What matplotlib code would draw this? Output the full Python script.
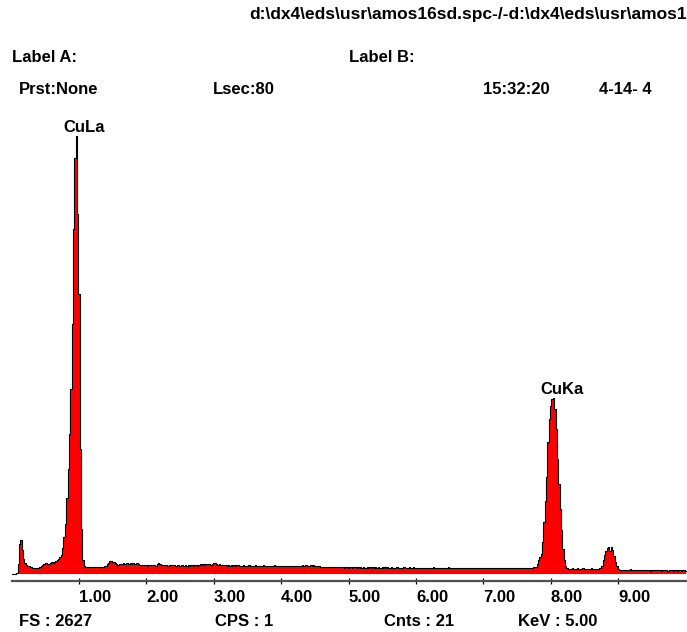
import numpy as np
import matplotlib
matplotlib.use("Agg")
import matplotlib.pyplot as plt

plt.rcParams['font.family'] = ['Liberation Sans', 'DejaVu Sans']

# ---- spectrum data (counts per 0.02 keV channel) ----
step_kev = 0.02

# 0.00 - 1.18 keV : noise peak and Cu L line
start_low = 0.00
counts_low = [
    0, 0, 0, 0, 6, 60, 180, 200, 140, 85,
    66, 54, 48, 44, 40, 38, 36, 33, 34, 33,
    36, 38, 46, 54, 58, 64, 62, 56, 60, 66,
    72, 64, 68, 74, 82, 90, 100, 114, 156, 222,
    300, 456, 630, 840, 1110, 1500, 2070, 2500, 2627, 2160,
    1680, 750, 270, 84, 48, 39, 38, 40, 38, 39,
]

# 1.20 - 7.74 keV : bremsstrahlung background
start_bg = 1.20
counts_bg = [
    40, 42, 38, 41, 40, 39, 42, 40, 41, 44,
    48, 56, 66, 74, 76, 72, 68, 62, 56, 54,
    56, 58, 60, 63, 60, 62, 64, 60, 62, 58,
    62, 60, 58, 62, 57, 54, 52, 54, 50, 52,
    50, 48, 52, 50, 54, 49, 51, 48, 56, 64,
    60, 52, 50, 53, 49, 51, 48, 52, 50, 54,
    49, 51, 47, 50, 53, 48, 50, 52, 47, 51,
    48, 50, 46, 52, 49, 47, 50, 54, 48, 52,
    56, 52, 58, 54, 57, 60, 55, 58, 54, 57,
    62, 66, 58, 54, 56, 52, 50, 53, 49, 51,
    48, 50, 46, 52, 48, 50, 47, 49, 52, 46,
    48, 45, 50, 47, 44, 48, 50, 46, 48, 45,
    47, 50, 44, 46, 48, 45, 47, 52, 46, 44,
    47, 45, 48, 44, 46, 49, 45, 47, 44, 46,
    45, 48, 44, 46, 43, 47, 45, 44, 48, 46,
    44, 46, 43, 45, 48, 46, 50, 47, 49, 52,
    48, 46, 50, 47, 51, 46, 48, 44, 46, 42,
    40, 38, 41, 39, 38, 40, 37, 39, 38, 41,
    38, 37, 39, 38, 42, 37, 38, 36, 38, 37,
    36, 38, 37, 36, 37, 39, 36, 37, 36, 38,
    36, 37, 36, 36, 38, 36, 37, 36, 40, 36,
    37, 36, 38, 36, 36, 37, 36, 38, 36, 37,
    36, 36, 37, 36, 36, 36, 37, 36, 36, 36,
    36, 37, 36, 36, 36, 38, 36, 36, 37, 36,
    36, 36, 36, 36, 36, 35, 36, 36, 36, 36,
    36, 36, 36, 37, 36, 36, 35, 36, 36, 36,
    36, 36, 35, 36, 39, 35, 34, 36, 35, 33,
    35, 33, 36, 34, 32, 35, 33, 34, 36, 33,
    34, 32, 35, 33, 34, 31, 35, 33, 32, 34,
    33, 35, 32, 34, 31, 33, 35, 32, 34, 33,
    32, 34, 33, 31, 34, 32, 35, 33, 32, 34,
    33, 31, 34, 32, 35, 33, 32, 34, 36, 33,
    34, 32, 35, 33, 34, 36, 35, 37,
]

# 7.76 - 10.00 keV : Cu K lines
start_cuk = 7.76
counts_cuk = [
    38, 42, 60, 84, 102, 120, 192, 312, 438, 582,
    792, 930, 1008, 1050, 1056, 990, 870, 690, 540, 390,
    264, 150, 84, 48, 33, 30,
    30, 28, 31, 29, 30, 27, 31, 29, 28, 30,
    32, 29, 28, 30, 27, 29, 31, 28, 30, 29,
    28, 30, 31,
    36, 48, 81, 114, 138, 156, 162, 138, 159, 144,
    108, 72, 48, 30, 24,
    22, 21, 24, 20, 21, 22, 20, 26, 21, 20,
    22, 21, 20, 24, 21, 22, 20, 21, 19, 22,
    21, 20, 18, 21, 22, 20, 21, 19, 20, 22,
    18, 20, 21, 19, 20, 18, 21, 19, 20, 18,
    19, 21, 18, 20, 19, 18, 20, 19, 18,
]

full_scale = 2627
peak_labels = ["CuLa", "CuKa"]
peak_kev = [0.96, 8.04]

tick_values = [1, 2, 3, 4, 5, 6, 7, 8, 9]
tick_labels = ["1.00", "2.00", "3.00", "4.00", "5.00",
               "6.00", "7.00", "8.00", "9.00"]


def channel_energies(start, values):
    return start + step_kev * np.arange(len(values))


energy = np.concatenate([channel_energies(start_low, counts_low),
                         channel_energies(start_bg, counts_bg),
                         channel_energies(start_cuk, counts_cuk)])
counts = np.concatenate([counts_low, counts_bg, counts_cuk]).astype(float)

W, H = 687, 632
fig = plt.figure(figsize=(W / 100, H / 100), dpi=100)
fig.patch.set_facecolor("white")

# axes box in pixel units: x 0..10 keV over px 11.6..685.6, counts 0..FS over px 573.5..136.5
left_px, right_px = 11.6, 685.6
base_px, top_px = 573.5, 136.5
ax = fig.add_axes([left_px / W, 1 - base_px / H,
                   (right_px - left_px) / W, (base_px - top_px) / H])
ax.set_xlim(0, 10)
ax.set_ylim(0, full_scale)
ax.patch.set_alpha(0)

ax.fill_between(energy, counts, 0, step="mid", color="#ff0000", lw=0,
                clip_on=False)
ax.plot(energy, counts, drawstyle="steps-mid", color="black", lw=0.8,
        clip_on=False)

for name, e in zip(peak_labels, peak_kev):
    idx = int(np.argmin(np.abs(energy - e)))
    ax.annotate(name, xy=(energy[idx], counts[idx]), xytext=(-13, 4),
                textcoords="offset pixels", ha="left", va="baseline",
                fontsize=12, fontweight="bold", annotation_clip=False)

# energy axis drawn a few pixels below the spectrum baseline
for side in ("top", "right", "left"):
    ax.spines[side].set_visible(False)
ax.spines["bottom"].set_position(("outward", 7 * 0.72))
ax.spines["bottom"].set_color("#505050")
ax.spines["bottom"].set_linewidth(1.6)
ax.set_yticks([])
ax.set_xticks(tick_values)
ax.set_xticklabels(tick_labels)
ax.tick_params(axis="x", direction="inout", length=6 * 0.72, width=0.9,
               color="black", pad=5, labelsize=12)
for lbl in ax.get_xticklabels():
    lbl.set_horizontalalignment("left")
    lbl.set_fontweight("bold")

# header and status lines
def put(x_px, y_px, s, size=12):
    fig.text(x_px / W, 1 - y_px / H, s, ha="left", va="center",
             fontsize=size, fontweight="bold")

put(249, 14, r"d:\dx4\eds\usr\amos16sd.spc-/-d:\dx4\eds\usr\amos1", size=12.5)
put(12, 58, "Label A:")
put(349, 58, "Label B:")
put(19, 89, "Prst:None")
put(213, 89, "Lsec:80")
put(483, 89, "15:32:20")
put(599, 89, "4-14- 4")
put(19, 621, "FS : 2627")
put(215, 621, "CPS : 1")
put(384, 621, "Cnts : 21")
put(518, 621, "KeV : 5.00")

fig.savefig("out.png", dpi=100)
